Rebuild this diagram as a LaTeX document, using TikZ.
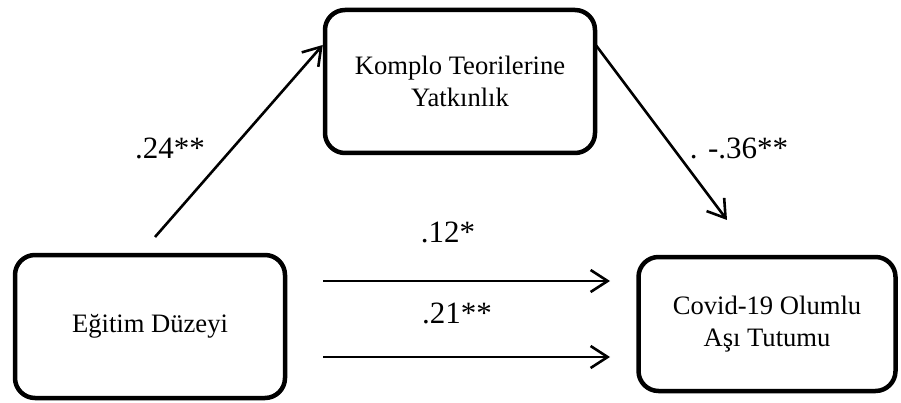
\documentclass[tikz,border=0pt]{standalone}
\usepackage{fontspec}
\setmainfont{Liberation Serif}
\usetikzlibrary{arrows.meta}
\begin{document}
\begin{tikzpicture}[x=1pt,y=-1pt,
  box/.style={rectangle, rounded corners=20pt, draw=black, line width=4.5pt, fill=none, align=center, font=\fontsize{26.6}{32}\selectfont},
  lbl/.style={anchor=base, inner sep=0pt, font=\fontsize{31}{36}\selectfont},
  arr/.style={line width=2.6pt, -{Straight Barb[length=17pt,width=22pt,line width=2.6pt]}}]
\useasboundingbox (0,0) rectangle (901,403);
\node [box, minimum width=270pt, minimum height=143pt] (komplo) at (460,81.5) {Komplo Teorilerine\\Yatkınlık};
\node [box, minimum width=270pt, minimum height=143pt] (egitim) at (150,326.5) {Eğitim Düzeyi};
\node [box, minimum width=257pt, minimum height=134pt] (covid) at (767,324) {Covid-19 Olumlu\\Aşı Tutumu};
\coordinate (s1) at (155,237);
\coordinate (e2) at (727,220);
\coordinate (s3) at (323,281);
\coordinate (e3) at (610,281);
\coordinate (s4) at (323,357);
\coordinate (e4) at (610,357);
\draw [arr] (s1) -- ([yshift=36.5pt]komplo.west);
\draw [arr, shorten <=-2pt] ([yshift=34.5pt]komplo.east) -- (e2);
\draw [arr] (s3) -- (e3);
\draw [arr] (s4) -- (e4);
\node [lbl] (l1) at (170,159) {.24**};
\node [lbl] (l2) at (739,159) {. -.36**};
\node [lbl] (l3) at (448,242) {.12*};
\node [lbl] (l4) at (457,323) {.21**};
\end{tikzpicture}
\end{document}
